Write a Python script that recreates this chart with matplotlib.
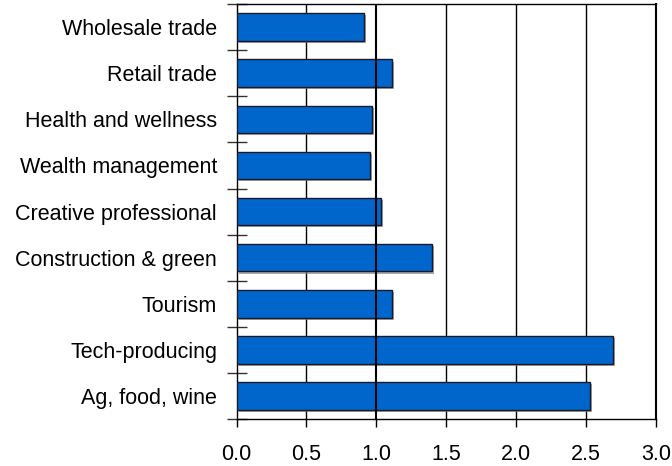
import matplotlib
matplotlib.use("Agg")
import matplotlib.pyplot as plt
import matplotlib.patheffects as pe
import numpy as np

plt.rcParams['font.family'] = ['Liberation Sans', 'DejaVu Sans']

sectors = ["Ag, food, wine", "Tech-producing", "Tourism", "Construction & green",
           "Creative professional", "Wealth management", "Health and wellness",
           "Retail trade", "Wholesale trade"]
values = [2.53, 2.69, 1.11, 1.40, 1.03, 0.955, 0.97, 1.115, 0.91]

fig = plt.figure(figsize=(6.72, 4.66), dpi=100)
ax = fig.add_axes([0.352, 0.101, 0.624, 0.890])

y = np.arange(len(sectors))
bars = ax.barh(y, values, height=0.6, color='#0066CC', edgecolor='#1a1a2a',
               linewidth=1.0, zorder=3)
for b in bars:
    b.set_path_effects([pe.SimplePatchShadow(offset=(1.5, -1.5), shadow_rgbFace='#808080', alpha=0.7),
                        pe.Normal()])

ax.set_xlim(0, 3.0)
ax.set_ylim(-0.5, len(sectors) - 0.5)

# vertical grid every 0.5
for gx in np.arange(0.5, 3.01, 0.5):
    ax.axvline(gx, color='black', linewidth=1.5 if gx == 1.0 else 1.0, zorder=2 if gx != 1.0 else 4)

ax.set_xticks(np.arange(0, 3.01, 0.5))
ax.set_xticklabels([f"{v:.1f}" for v in np.arange(0, 3.01, 0.5)], fontsize=15.5)
ax.tick_params(axis='x', direction='out', length=6, width=1, pad=12)

# category labels centred on bars, tick marks on boundaries
ax.set_yticks(y)
ax.set_yticklabels(sectors, fontsize=15.5)
ax.tick_params(axis='y', which='major', length=0, pad=14)
ax.set_yticks(np.arange(-0.5, len(sectors), 1.0), minor=True)
ax.tick_params(axis='y', which='minor', direction='inout', length=14, width=1, color='#333333')

for s in ['top', 'right', 'left', 'bottom']:
    ax.spines[s].set_color('black')
    ax.spines[s].set_linewidth(1.0)
ax.spines['right'].set_linewidth(1.5)

fig.savefig("out.png", dpi=100)
